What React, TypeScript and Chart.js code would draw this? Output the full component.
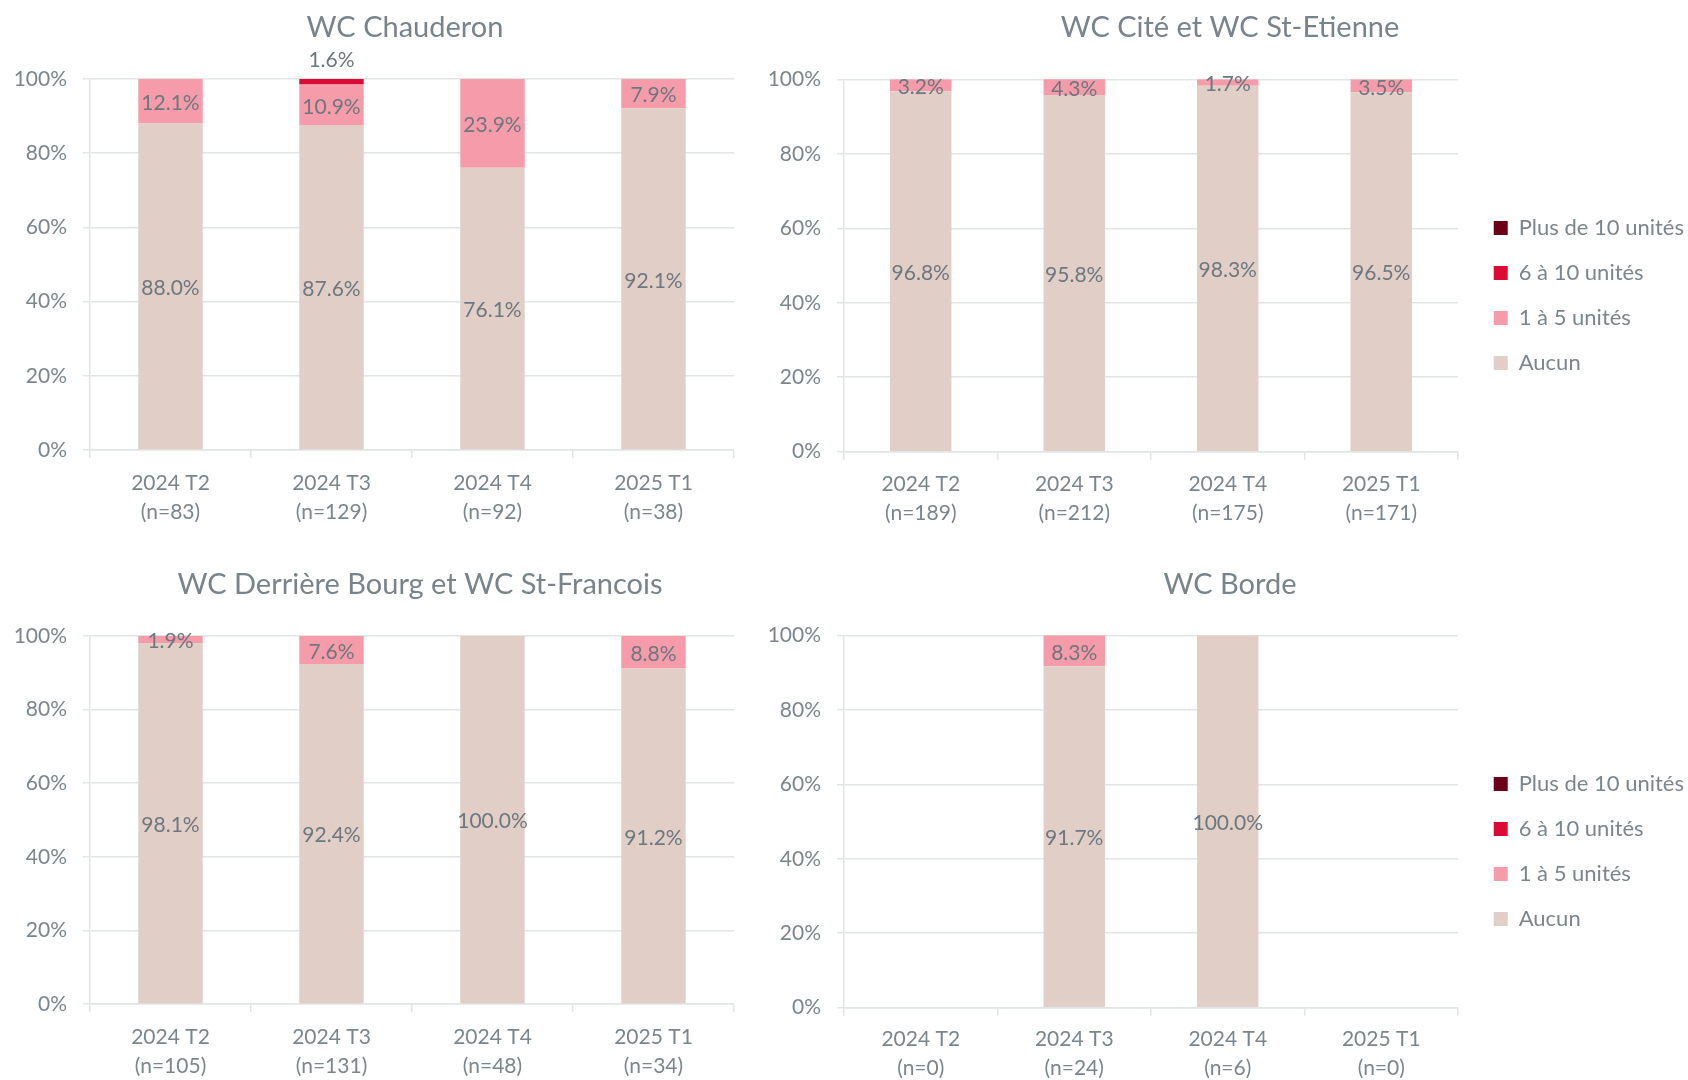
import React, { useEffect, useRef } from "react";
import { Chart, registerables } from "chart.js";

Chart.register(...registerables);

// ---------- data ----------
const SERIES_LABELS = ["Aucun", "1 à 5 unités", "6 à 10 unités", "Plus de 10 unités"];
const PERIODS = ["2024 T2", "2024 T3", "2024 T4", "2025 T1"];
const Y_TICK_STEP = 20;

const chauderonN = [83, 129, 92, 38];
const chauderonAucun = [88.0, 87.6, 76.1, 92.1];
const chauderon1a5 = [12.1, 10.9, 23.9, 7.9];
const chauderon6a10 = [0, 1.6, 0, 0];
const chauderonPlus10 = [0, 0, 0, 0];

const citeN = [189, 212, 175, 171];
const citeAucun = [96.8, 95.8, 98.3, 96.5];
const cite1a5 = [3.2, 4.3, 1.7, 3.5];
const cite6a10 = [0, 0, 0, 0];
const citePlus10 = [0, 0, 0, 0];

const bourgN = [105, 131, 48, 34];
const bourgAucun = [98.1, 92.4, 100.0, 91.2];
const bourg1a5 = [1.9, 7.6, 0, 8.8];
const bourg6a10 = [0, 0, 0, 0];
const bourgPlus10 = [0, 0, 0, 0];

const bordeN = [0, 24, 6, 0];
const bordeAucun = [null, 91.7, 100.0, null];
const borde1a5 = [null, 8.3, 0, null];
const borde6a10 = [null, 0, 0, null];
const bordePlus10 = [null, 0, 0, null];

// ---------- styles ----------
const SERIES_COLORS = ["#e0cec7", "#f59ba9", "#dc0a35", "#6c0016"];
const GRID = "#e2e5e6";
const TICK_COLOR = "#7b868c";
const TITLE_COLOR = "#78838a";
const LABEL_COLOR = "#6d787e";
const FONT = "Lato, 'Open Sans', sans-serif";
const TITLE_SIZE = 29;
const TITLE_LH = 1.2;
const TICK_SIZE = 21;
const LABEL_DY = 2;

Chart.defaults.font.family = FONT;
Chart.defaults.color = TICK_COLOR;

type PanelCfg = {
  title: string;
  n: number[];
  values: (number | null)[][];
  legend: boolean;
  box: { x: number; y: number; w: number; h: number };
  plot: { left: number; right: number; top: number; bottom: number };
  titleCY: number;
  padL: number;
  tickPad: number;
};

const PANELS: PanelCfg[] = [
  {
    title: "WC Chauderon",
    n: chauderonN,
    values: [chauderonAucun, chauderon1a5, chauderon6a10, chauderonPlus10],
    legend: false,
    box: { x: 0, y: 0, w: 810, h: 540 },
    plot: { left: 90, right: 734, top: 79, bottom: 450 },
    titleCY: 28,
    padL: 0,
    tickPad: 10.5,
  },
  {
    title: "WC Cité et WC St-Etienne",
    n: citeN,
    values: [citeAucun, cite1a5, cite6a10, citePlus10],
    legend: true,
    box: { x: 750, y: 0, w: 944, h: 591 },
    plot: { left: 844, right: 1458, top: 79.3, bottom: 451.7 },
    titleCY: 28,
    padL: 16,
    tickPad: 9.8,
  },
  {
    title: "WC Derrière Bourg et WC St-Francois",
    n: bourgN,
    values: [bourgAucun, bourg1a5, bourg6a10, bourgPlus10],
    legend: false,
    box: { x: 0, y: 540, w: 840, h: 540 },
    plot: { left: 90, right: 734, top: 636, bottom: 1004 },
    titleCY: 584.5,
    padL: 0,
    tickPad: 11.2,
  },
  {
    title: "WC Borde",
    n: bordeN,
    values: [bordeAucun, borde1a5, borde6a10, bordePlus10],
    legend: true,
    box: { x: 750, y: 540, w: 944, h: 623 },
    plot: { left: 844, right: 1458, top: 635.3, bottom: 1007.7 },
    titleCY: 584.5,
    padL: 16,
    tickPad: 9.5,
  },
];

// draws the value of each bar segment (library element positions)
const valueLabels = {
  id: "valueLabels",
  afterDatasetsDraw(chart: any) {
    const ctx = chart.ctx;
    ctx.save();
    ctx.font = `${TICK_SIZE}px ${FONT}`;
    ctx.fillStyle = LABEL_COLOR;
    ctx.textAlign = "center";
    ctx.textBaseline = "middle";
    chart.data.datasets.forEach((ds: any, di: number) => {
      const meta = chart.getDatasetMeta(di);
      meta.data.forEach((el: any, i: number) => {
        const v = ds.data[i];
        if (v == null || v <= 0) return;
        const { x, y, base } = el.getProps(["x", "y", "base"], true);
        const ty = ds.labelOutside ? Math.min(y, base) - 20 : (y + base) / 2;
        ctx.fillText(v.toFixed(1) + "%", x, ty + LABEL_DY);
      });
    });
    ctx.restore();
  },
};

function makeConfig(cfg: PanelCfg): any {
  const titleLine = TITLE_SIZE * TITLE_LH;
  const titleTop = cfg.titleCY - cfg.box.y - titleLine / 2;
  const titleBottom = cfg.plot.top - cfg.box.y - titleTop - titleLine;
  return {
    type: "bar",
    data: {
      labels: PERIODS.map((p, i) => [p, `(n=${cfg.n[i]})`]),
      datasets: SERIES_LABELS.map((label, k) => ({
        label,
        data: cfg.values[k],
        backgroundColor: SERIES_COLORS[k],
        borderWidth: 0,
        barPercentage: 0.4,
        categoryPercentage: 1,
        labelOutside: k === 2,
      })),
    },
    options: {
      responsive: false,
      animation: false,
      layout: { padding: { left: cfg.padL, right: 0, top: 0, bottom: 0 } },
      plugins: {
        title: {
          display: true,
          text: cfg.title,
          color: TITLE_COLOR,
          font: { size: TITLE_SIZE, weight: "normal", lineHeight: TITLE_LH },
          padding: { top: titleTop, bottom: titleBottom },
        },
        legend: cfg.legend
          ? {
              display: true,
              position: "right",
              align: "center",
              reverse: true,
              maxWidth: 400,
              labels: {
                boxWidth: 14,
                boxHeight: 14,
                padding: 23,
                color: TICK_COLOR,
                font: { size: 22 },
              },
            }
          : { display: false },
        tooltip: { enabled: false },
      },
      scales: {
        x: {
          stacked: true,
          grid: {
            display: true,
            drawOnChartArea: false,
            drawTicks: true,
            tickLength: 8,
            color: GRID,
            lineWidth: 1.5,
            offset: true,
          },
          border: { display: true, color: GRID, width: 1.5 },
          ticks: {
            color: TICK_COLOR,
            font: { size: TICK_SIZE, lineHeight: 29 / TICK_SIZE },
            padding: cfg.tickPad,
            maxRotation: 0,
            autoSkip: false,
          },
          afterFit: (s: any) => {
            s.height = cfg.box.y + cfg.box.h - cfg.plot.bottom;
          },
        },
        y: {
          stacked: true,
          min: 0,
          max: 100,
          ticks: {
            stepSize: Y_TICK_STEP,
            callback: (v: number) => v + "%",
            padding: 16,
            color: TICK_COLOR,
            font: { size: TICK_SIZE },
          },
          grid: { color: GRID, lineWidth: 1.5, tickLength: 7, drawTicks: true },
          border: { display: true, color: GRID, width: 1.5 },
          afterFit: (s: any) => {
            s.width = cfg.plot.left - cfg.box.x - cfg.padL;
          },
        },
        spacer: {
          type: "linear",
          position: "right",
          display: true,
          grid: { display: false },
          border: { display: false },
          ticks: { display: false },
          afterFit: (s: any) => {
            const right = cfg.box.x + cfg.box.w;
            const leg = cfg.legend && s.chart.legend ? s.chart.legend.width : 0;
            s.width = Math.max(0, right - leg - cfg.plot.right);
          },
        },
      },
    },
    plugins: [valueLabels],
  };
}

function Panel({ cfg }: { cfg: PanelCfg }) {
  const ref = useRef<HTMLCanvasElement>(null);
  useEffect(() => {
    let chart: Chart | null = null;
    let cancelled = false;
    const build = () => {
      if (cancelled || !ref.current) return;
      chart = new Chart(ref.current, makeConfig(cfg));
    };
    const fontsApi = (document as any).fonts;
    if (fontsApi && fontsApi.load) {
      Promise.all([fontsApi.load(`21px Lato`), fontsApi.load(`29px Lato`)]).then(build, build);
    } else {
      build();
    }
    return () => {
      cancelled = true;
      if (chart) chart.destroy();
    };
  }, [cfg]);
  return (
    <canvas
      ref={ref}
      width={cfg.box.w}
      height={cfg.box.h}
      style={{
        position: "absolute",
        left: cfg.box.x,
        top: cfg.box.y,
        width: cfg.box.w,
        height: cfg.box.h,
      }}
    />
  );
}

export default function App() {
  return (
    <div
      style={{
        position: "fixed",
        left: 0,
        top: 0,
        width: 1688,
        height: 1080,
        overflow: "hidden",
        background: "#ffffff",
      }}
    >
      {PANELS.map((p) => (
        <Panel key={p.title} cfg={p} />
      ))}
    </div>
  );
}
